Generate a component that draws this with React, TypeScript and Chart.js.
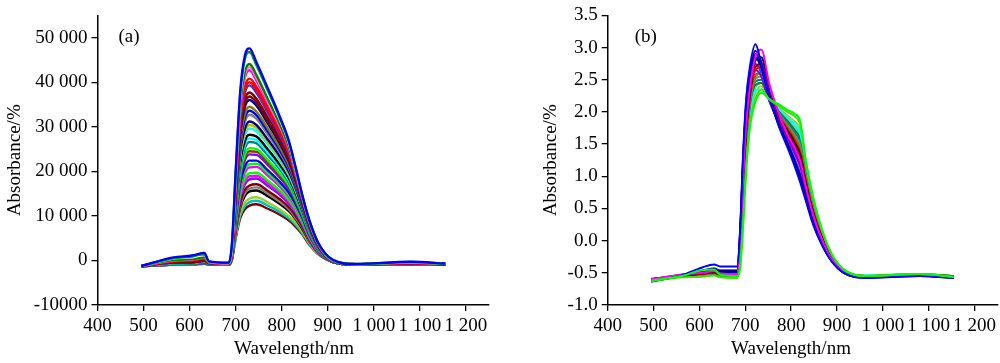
import React, { useEffect, useRef } from "react";
import { Chart, registerables } from "chart.js";

Chart.register(...registerables);

const FONT = '"Liberation Serif", "Times New Roman", serif';

// ---------- axis ticks ----------
const xTickValues = [400, 500, 600, 700, 800, 900, 1000, 1100, 1200];
const xTickLabels = ["400", "500", "600", "700", "800", "900", "1 000", "1 100", "1 200"];

// panel (a) values are stored in thousands
const yTickValuesA = [-10, 0, 10, 20, 30, 40, 50];
const yTickLabelsA = ["-10000", "0", "10 000", "20 000", "30 000", "40 000", "50 000"];
const yTickValuesB = [-1, -0.5, 0, 0.5, 1, 1.5, 2, 2.5, 3, 3.5];
const yTickLabelsB = ["-1.0", "-0.5", "0.0", "0.5", "1.0", "1.5", "2.0", "2.5", "3.0", "3.5"];

// ---------- panel (a): raw spectra (x1000) ----------
const wavelengthsA = [495, 565, 605, 632, 642, 685, 692, 700, 710, 720, 730, 745, 770, 795, 815, 830, 845, 860, 880, 910, 960, 1080, 1155];

const specA01 = [-1.25, 0.7, 1.1, 1.7, -0.2, -0.5, 4.0, 20.0, 38.1, 46.0, 47.6, 44.5, 38.6, 32.5, 27.0, 21.0, 14.5, 9.0, 3.8, 0.2, -0.8, -0.3, -0.7];
const specA01b = [-1.25, 0.5, 0.9, 1.4, -0.25, -0.55, 3.5, 19.6, 37.3, 45.2, 46.8, 43.8, 38.1, 32.1, 26.7, 20.8, 14.4, 8.9, 3.7, 0.15, -0.8, -0.35, -0.7];
const specA02 = [-1.25, 0.4, 0.7, 1.2, -0.3, -0.6, 3.0, 19.2, 36.6, 44.4, 46.0, 43.2, 37.6, 31.8, 26.5, 20.6, 14.3, 8.8, 3.7, 0.1, -0.8, -0.4, -0.7];
const specA03 = [-1.2, 0.1, 0.3, 0.7, -0.4, -0.6, 2.6, 18.5, 34.9, 42.4, 44.1, 41.6, 36.2, 30.8, 25.7, 20.2, 14.1, 8.8, 3.7, 0.0, -0.85, -0.5, -0.75];
const specA03b = [-1.2, 0.05, 0.25, 0.65, -0.4, -0.6, 2.45, 18.1, 34.3, 41.7, 43.4, 41.0, 35.7, 30.4, 25.5, 20.0, 14.0, 8.7, 3.6, 0.0, -0.85, -0.5, -0.75];
const specA04 = [-1.25, 0.0, 0.2, 0.6, -0.4, -0.6, 2.3, 17.8, 33.7, 41.0, 42.7, 40.4, 35.3, 30.1, 25.3, 19.9, 14.0, 8.7, 3.6, 0.0, -0.85, -0.5, -0.75];
const specA05 = [-1.2, -0.2, 0.0, 0.4, -0.5, -0.7, 2.1, 17.0, 32.3, 39.0, 40.8, 39.0, 34.3, 29.4, 24.8, 19.7, 14.1, 8.7, 3.5, 0.0, -0.85, -0.55, -0.75];
const specA05b = [-1.25, -0.15, 0.05, 0.45, -0.45, -0.65, 2.05, 16.7, 31.7, 38.3, 40.0, 38.3, 33.7, 28.8, 24.3, 19.3, 13.8, 8.5, 3.4, -0.05, -0.85, -0.6, -0.8];
const specA06 = [-1.25, -0.1, 0.1, 0.5, -0.4, -0.6, 2.0, 16.4, 31.1, 37.6, 39.3, 37.6, 33.1, 28.3, 23.9, 19.0, 13.6, 8.3, 3.4, -0.05, -0.85, -0.6, -0.8];
const specA07 = [-1.25, -0.3, -0.3, 0.0, -0.5, -0.7, 1.9, 15.7, 29.8, 36.1, 37.7, 36.3, 32.0, 27.5, 23.2, 18.6, 13.3, 8.2, 3.3, -0.1, -0.9, -0.6, -0.8];
const specA07b = [-1.25, -0.35, -0.35, -0.05, -0.55, -0.7, 1.85, 15.3, 29.1, 35.2, 36.8, 35.5, 31.3, 26.9, 22.7, 18.2, 13.1, 8.0, 3.2, -0.1, -0.9, -0.65, -0.8];
const specA08 = [-1.25, -0.4, -0.4, -0.1, -0.6, -0.7, 1.8, 15.0, 28.4, 34.4, 36.0, 34.7, 30.7, 26.4, 22.3, 17.9, 12.9, 7.9, 3.2, -0.1, -0.9, -0.65, -0.8];
const specA09 = [-1.3, -0.4, -0.35, 0.1, -0.55, -0.75, 1.7, 14.3, 27.1, 32.9, 34.5, 33.4, 29.6, 25.5, 21.6, 17.5, 12.6, 7.7, 3.1, -0.15, -0.9, -0.7, -0.8];
const specA09b = [-1.3, -0.45, -0.4, -0.05, -0.6, -0.75, 1.65, 14.0, 26.4, 32.0, 33.6, 32.6, 28.9, 24.9, 21.1, 17.1, 12.4, 7.6, 3.0, -0.15, -0.9, -0.7, -0.85];
const specA10 = [-1.25, -0.5, -0.5, -0.2, -0.6, -0.75, 1.6, 13.6, 25.7, 31.1, 32.7, 31.8, 28.2, 24.4, 20.7, 16.8, 12.2, 7.5, 2.9, -0.15, -0.9, -0.7, -0.85];
const specA11 = [-1.3, -0.5, -0.45, -0.1, -0.6, -0.8, 1.5, 12.9, 24.5, 29.6, 31.2, 30.4, 27.1, 23.5, 20.0, 16.3, 11.8, 7.2, 2.8, -0.2, -0.9, -0.75, -0.85];
const specA11b = [-1.3, -0.55, -0.5, -0.2, -0.6, -0.8, 1.45, 12.6, 23.9, 28.8, 30.4, 29.7, 26.5, 23.0, 19.6, 16.0, 11.6, 7.1, 2.75, -0.2, -0.9, -0.75, -0.85];
const specA12 = [-1.25, -0.6, -0.55, -0.3, -0.65, -0.8, 1.4, 12.3, 23.3, 28.1, 29.6, 29.0, 26.0, 22.5, 19.2, 15.7, 11.5, 7.0, 2.7, -0.2, -0.9, -0.75, -0.85];
const specA13 = [-1.3, -0.6, -0.6, -0.4, -0.7, -0.8, 1.3, 11.7, 22.1, 26.8, 28.2, 27.8, 24.9, 21.6, 18.5, 15.1, 11.1, 6.8, 2.6, -0.2, -0.9, -0.8, -0.85];
const specA13b = [-1.3, -0.65, -0.6, -0.4, -0.7, -0.8, 1.25, 11.3, 21.4, 26.0, 27.4, 27.0, 24.2, 21.1, 18.0, 14.8, 10.9, 6.6, 2.55, -0.2, -0.9, -0.8, -0.85];
const specA14 = [-1.3, -0.7, -0.65, -0.45, -0.7, -0.85, 1.2, 11.0, 20.8, 25.2, 26.6, 26.3, 23.6, 20.6, 17.6, 14.5, 10.7, 6.5, 2.5, -0.25, -0.9, -0.8, -0.85];
const specA15 = [-1.3, -0.7, -0.7, -0.5, -0.75, -0.85, 1.1, 10.4, 19.7, 23.8, 25.2, 25.0, 22.5, 19.6, 16.9, 13.9, 10.3, 6.3, 2.4, -0.25, -0.9, -0.8, -0.85];
const specA15b = [-1.3, -0.7, -0.7, -0.5, -0.75, -0.85, 1.05, 10.1, 19.1, 23.1, 24.5, 24.4, 22.0, 19.2, 16.5, 13.6, 10.1, 6.1, 2.35, -0.25, -0.9, -0.8, -0.9];
const specA16 = [-1.3, -0.75, -0.7, -0.55, -0.75, -0.85, 1.0, 9.8, 18.5, 22.5, 23.8, 23.7, 21.4, 18.7, 16.1, 13.3, 9.9, 6.0, 2.3, -0.25, -0.9, -0.8, -0.9];
const specA17 = [-1.3, -0.8, -0.75, -0.6, -0.8, -0.9, 0.9, 9.2, 17.4, 21.1, 22.4, 22.4, 20.2, 17.7, 15.3, 12.7, 9.5, 5.7, 2.2, -0.3, -0.9, -0.85, -0.9];
const specA17b = [-1.3, -0.8, -0.8, -0.6, -0.8, -0.9, 0.85, 8.9, 16.8, 20.4, 21.6, 21.7, 19.6, 17.2, 14.8, 12.3, 9.2, 5.6, 2.15, -0.3, -0.9, -0.85, -0.9];
const specA18 = [-1.3, -0.8, -0.8, -0.6, -0.8, -0.9, 0.8, 8.6, 16.2, 19.7, 20.9, 21.0, 19.0, 16.7, 14.4, 12.0, 9.0, 5.5, 2.1, -0.3, -0.9, -0.85, -0.9];
const specA19 = [-1.3, -0.85, -0.8, -0.65, -0.8, -0.9, 0.7, 8.1, 15.2, 18.4, 19.6, 19.7, 17.9, 15.8, 13.7, 11.4, 8.5, 5.2, 2.0, -0.3, -0.95, -0.85, -0.9];
const specA19b = [-1.3, -0.85, -0.8, -0.7, -0.85, -0.9, 0.65, 7.8, 14.6, 17.7, 18.9, 19.0, 17.3, 15.3, 13.2, 11.0, 8.3, 5.0, 1.9, -0.3, -0.95, -0.85, -0.9];
const specA20 = [-1.3, -0.85, -0.85, -0.7, -0.85, -0.9, 0.6, 7.5, 14.1, 17.1, 18.2, 18.4, 16.7, 14.8, 12.8, 10.7, 8.1, 4.9, 1.8, -0.3, -0.95, -0.85, -0.9];
const specA21 = [-1.3, -0.9, -0.85, -0.7, -0.85, -0.95, 0.5, 6.9, 13.0, 15.8, 16.8, 17.1, 15.6, 13.8, 12.0, 10.0, 7.6, 4.6, 1.7, -0.3, -0.95, -0.9, -0.9];
const specA21b = [-1.3, -0.9, -0.85, -0.75, -0.85, -0.95, 0.45, 6.6, 12.4, 15.1, 16.1, 16.4, 15.0, 13.2, 11.5, 9.6, 7.3, 4.4, 1.6, -0.3, -0.95, -0.9, -0.9];
const specA22 = [-1.3, -0.9, -0.85, -0.75, -0.85, -0.95, 0.4, 6.4, 11.9, 14.5, 15.5, 15.7, 14.4, 12.7, 11.1, 9.3, 7.0, 4.3, 1.6, -0.3, -0.95, -0.9, -0.9];
const specA23 = [-1.3, -0.9, -0.9, -0.75, -0.9, -0.95, 0.3, 5.7, 10.7, 13.0, 13.9, 14.2, 13.0, 11.5, 10.0, 8.5, 6.4, 3.9, 1.4, -0.35, -0.95, -0.9, -0.95];
const specA23b = [-1.3, -0.9, -0.9, -0.75, -0.9, -0.95, 0.25, 5.3, 10.1, 12.2, 13.1, 13.4, 12.3, 10.9, 9.5, 8.0, 6.1, 3.7, 1.35, -0.3, -0.95, -0.9, -0.95];
const specA24 = [-1.3, -0.9, -0.85, -0.7, -0.85, -0.95, 0.2, 5.0, 9.5, 11.5, 12.3, 12.6, 11.6, 10.3, 9.0, 7.6, 5.8, 3.5, 1.3, -0.3, -0.95, -0.9, -0.9];

const seriesA = [
  specA01, specA01b, specA02, specA03, specA03b, specA04, specA05, specA05b, specA06, specA07, specA07b, specA08,
  specA09, specA09b, specA10, specA11, specA11b, specA12, specA13, specA13b, specA14, specA15, specA15b, specA16,
  specA17, specA17b, specA18, specA19, specA19b, specA20, specA21, specA21b, specA22, specA23, specA23b, specA24,
];
const colorsA = [
  "#0000FF", "#00A000", "#FFFFFF", "#008000", "#FF80C0", "#FF00FF", "#FF0000", "#FF0000", "#3030FF", "#800000", "#800000", "#0000A0",
  "#808000", "#0000FF", "#808080", "#000080", "#C0C000", "#00FFFF", "#000000", "#00FFFF", "#008080", "#00FF00", "#804000", "#8000FF",
  "#0000FF", "#00FF00", "#FF00FF", "#00FF00", "#FF00FF", "#8000FF", "#800000", "#808080", "#000000", "#9ACD32", "#00C0C0", "#800000",
];

// ---------- panel (b): pretreated spectra ----------
const wavelengthsB = [495, 560, 605, 632, 645, 682, 689, 695, 702, 710, 722, 735, 752, 772, 792, 808, 820, 832, 848, 866, 888, 915, 960, 1080, 1155];

const specB01 = [-0.64, -0.54, -0.42, -0.37, -0.40, -0.40, 0.2, 1.3, 2.2, 2.7, 3.05, 2.75, 2.25, 1.8, 1.45, 1.15, 0.9, 0.62, 0.25, -0.05, -0.32, -0.5, -0.58, -0.55, -0.58];
const specB02 = [-0.62, -0.55, -0.47, -0.44, -0.47, -0.47, 0.14, 1.19, 2.09, 2.6, 2.95, 2.71, 2.25, 1.83, 1.51, 1.23, 1.0, 0.68, 0.29, -0.03, -0.31, -0.5, -0.57, -0.55, -0.57];
const specB03 = [-0.63, -0.55, -0.48, -0.46, -0.48, -0.49, 0.17, 1.25, 2.15, 2.62, 2.85, 2.68, 2.25, 1.82, 1.48, 1.19, 0.95, 0.65, 0.27, -0.04, -0.31, -0.5, -0.57, -0.54, -0.57];
const specB04 = [-0.6, -0.53, -0.5, -0.47, -0.51, -0.52, -0.01, 0.92, 1.82, 2.37, 2.85, 2.97, 2.45, 2.0, 1.65, 1.44, 1.23, 0.84, 0.4, 0.04, -0.28, -0.48, -0.55, -0.53, -0.56];
const specB05 = [-0.6, -0.53, -0.49, -0.46, -0.5, -0.51, 0.02, 0.97, 1.87, 2.42, 2.9, 2.78, 2.3, 1.9, 1.62, 1.4, 1.19, 0.81, 0.38, 0.03, -0.28, -0.49, -0.56, -0.53, -0.56];
const specB06 = [-0.61, -0.55, -0.52, -0.5, -0.53, -0.54, -0.04, 0.86, 1.76, 2.32, 2.7, 2.75, 2.32, 1.93, 1.68, 1.48, 1.28, 0.87, 0.42, 0.05, -0.27, -0.48, -0.55, -0.54, -0.56];
const specB07 = [-0.6, -0.55, -0.51, -0.49, -0.52, -0.53, -0.07, 0.81, 1.71, 2.27, 2.8, 2.85, 2.35, 1.94, 1.71, 1.52, 1.33, 0.9, 0.44, 0.06, -0.27, -0.48, -0.55, -0.53, -0.55];
const specB08 = [-0.6, -0.54, -0.51, -0.48, -0.52, -0.53, -0.1, 0.75, 1.65, 2.22, 2.65, 2.7, 2.3, 1.96, 1.74, 1.56, 1.37, 0.94, 0.46, 0.08, -0.26, -0.47, -0.55, -0.53, -0.56];
const specB09 = [-0.62, -0.55, -0.5, -0.47, -0.5, -0.51, 0.05, 1.02, 1.92, 2.46, 2.65, 2.55, 2.18, 1.88, 1.59, 1.35, 1.14, 0.78, 0.36, 0.01, -0.29, -0.49, -0.56, -0.54, -0.57];
const specB10 = [-0.6, -0.55, -0.52, -0.5, -0.53, -0.55, -0.13, 0.7, 1.6, 2.18, 2.55, 2.6, 2.3, 1.98, 1.77, 1.6, 1.42, 0.97, 0.49, 0.09, -0.25, -0.47, -0.55, -0.52, -0.55];
const specB11 = [-0.59, -0.55, -0.53, -0.51, -0.54, -0.55, -0.16, 0.64, 1.54, 2.13, 2.51, 2.55, 2.28, 1.99, 1.8, 1.64, 1.47, 1.0, 0.51, 0.1, -0.25, -0.47, -0.55, -0.53, -0.55];
const specB12 = [-0.6, -0.56, -0.53, -0.51, -0.54, -0.56, -0.19, 0.59, 1.49, 2.08, 2.47, 2.5, 2.22, 2.01, 1.83, 1.68, 1.52, 1.03, 0.53, 0.11, -0.24, -0.47, -0.55, -0.53, -0.56];
const specB13 = [-0.6, -0.56, -0.52, -0.49, -0.53, -0.55, -0.28, 0.42, 1.32, 1.94, 2.33, 2.35, 2.2, 2.06, 1.91, 1.81, 1.66, 1.12, 0.59, 0.15, -0.22, -0.46, -0.54, -0.52, -0.55];
const specB14 = [-0.61, -0.56, -0.54, -0.52, -0.55, -0.56, -0.22, 0.53, 1.43, 2.04, 2.42, 2.45, 2.22, 2.02, 1.86, 1.72, 1.57, 1.06, 0.55, 0.13, -0.24, -0.47, -0.55, -0.53, -0.56];
const specB15 = [-0.63, -0.55, -0.47, -0.43, -0.46, -0.46, 0.11, 1.14, 2.04, 2.56, 2.75, 2.6, 2.18, 1.85, 1.54, 1.27, 1.04, 0.71, 0.31, -0.01, -0.3, -0.49, -0.57, -0.55, -0.58];
const specB16 = [-0.6, -0.54, -0.5, -0.48, -0.51, -0.52, -0.04, 0.86, 1.76, 2.3, 2.58, 2.6, 2.28, 1.95, 1.7, 1.5, 1.3, 0.88, 0.43, 0.05, -0.27, -0.48, -0.55, -0.53, -0.56];
const specB17 = [-0.61, -0.56, -0.55, -0.53, -0.56, -0.57, -0.31, 0.37, 1.27, 1.89, 2.29, 2.4, 2.21, 2.07, 1.94, 1.85, 1.71, 1.16, 0.62, 0.16, -0.22, -0.46, -0.54, -0.52, -0.55];
const specB18 = [-0.62, -0.55, -0.46, -0.45, -0.53, -0.55, -0.4, 0.2, 1.1, 1.75, 2.15, 2.3, 2.2, 2.12, 2.03, 1.97, 1.85, 1.25, 0.68, 0.2, -0.2, -0.45, -0.55, -0.52, -0.56];
const specB19 = [-0.63, -0.57, -0.56, -0.54, -0.57, -0.58, -0.37, 0.26, 1.16, 1.8, 2.2, 2.35, 2.2, 2.1, 2.0, 1.93, 1.8, 1.22, 0.66, 0.19, -0.21, -0.45, -0.55, -0.52, -0.56];
const specB20 = [-0.61, -0.56, -0.53, -0.51, -0.55, -0.56, -0.25, 0.48, 1.38, 1.99, 2.38, 2.45, 2.21, 2.04, 1.89, 1.77, 1.61, 1.09, 0.57, 0.14, -0.23, -0.46, -0.55, -0.53, -0.56];

const seriesB = [specB18, specB19, specB01, specB04, specB02, specB03, specB05, specB06, specB07, specB08,
  specB09, specB10, specB11, specB12, specB13, specB14, specB15, specB16, specB17, specB20];
const colorsB = ["#00FF00", "#40E000", "#0000FF", "#FF00FF", "#000080", "#0000A0", "#800080", "#800000", "#000000", "#FF0000",
  "#8000FF", "#808000", "#808080", "#008080", "#00FFFF", "#008000", "#2040FF", "#FF0080", "#9ACD32", "#40E0D0"];

// ---------- helpers ----------
type PanelCfg = {
  label: string;
  labelDx: number;
  xTitleCenter: number;
  wavelengths: number[];
  series: number[][];
  colors: string[];
  lineWidth: number;
  yMin: number;
  yMax: number;
  yTickValues: number[];
  yTickLabels: string[];
  padLeft: number;
  padRight: number;
  yWidth: number;
};

function textPlugin(cfg: PanelCfg) {
  return {
    id: "panelText",
    afterDraw(chart: any) {
      const { ctx, chartArea } = chart;
      ctx.save();
      ctx.font = `19px ${FONT}`;
      ctx.fillStyle = "#000";
      ctx.textBaseline = "middle";
      ctx.textAlign = "left";
      ctx.fillText(cfg.label, chartArea.left + cfg.labelDx, 37);
      ctx.textAlign = "center";
      ctx.fillText("Wavelength/nm", cfg.xTitleCenter, 349);
      ctx.restore();
    },
  };
}

function buildChart(canvas: HTMLCanvasElement, cfg: PanelCfg) {
  const datasets = cfg.series.map((s, k) => ({
    data: cfg.wavelengths.map((w, i) => ({ x: w, y: s[i] })),
    borderColor: cfg.colors[k],
    borderWidth: cfg.lineWidth,
    pointRadius: 0,
    fill: false,
    cubicInterpolationMode: "monotone" as const,
  }));
  const tickFont = { family: FONT, size: 19 };
  return new Chart(canvas, {
    type: "line",
    data: { datasets },
    plugins: [textPlugin(cfg)],
    options: {
      responsive: false,
      animation: false,
      events: [],
      layout: { padding: { left: cfg.padLeft, right: cfg.padRight, top: 14, bottom: 0 } },
      plugins: { legend: { display: false }, tooltip: { enabled: false } },
      scales: {
        x: {
          type: "linear",
          min: 400,
          max: 1250,
          afterBuildTicks: (s: any) => {
            s.ticks = xTickValues.map((v) => ({ value: v }));
          },
          afterFit: (s: any) => {
            s.height = 58;
          },
          ticks: {
            autoSkip: false,
            maxRotation: 0,
            minRotation: 0,
            padding: 4,
            color: "#000",
            font: tickFont,
            callback: (_v: any, i: number) => xTickLabels[i],
          },
          grid: { display: true, drawOnChartArea: false, drawTicks: true, tickLength: 6, color: "#000", lineWidth: 1.3 },
          border: { display: true, color: "#000", width: 1.5 },
          title: { display: false },
        },
        y: {
          type: "linear",
          min: cfg.yMin,
          max: cfg.yMax,
          afterBuildTicks: (s: any) => {
            s.ticks = cfg.yTickValues.map((v) => ({ value: v }));
          },
          afterFit: (s: any) => {
            s.width = cfg.yWidth;
          },
          ticks: {
            autoSkip: false,
            padding: 4,
            color: "#000",
            font: tickFont,
            callback: (_v: any, i: number) => cfg.yTickLabels[i],
          },
          grid: { display: true, drawOnChartArea: false, drawTicks: true, tickLength: 6, color: "#000", lineWidth: 1.3 },
          border: { display: true, color: "#000", width: 1.5 },
          title: { display: true, text: "Absorbance/%", color: "#000", font: tickFont, padding: { top: 4, bottom: 0 } },
        },
      },
    } as any,
  });
}

export default function App() {
  const refA = useRef<HTMLCanvasElement | null>(null);
  const refB = useRef<HTMLCanvasElement | null>(null);

  useEffect(() => {
    const charts: Chart[] = [];
    if (refA.current) {
      charts.push(
        buildChart(refA.current, {
          label: "(a)",
          labelDx: 21,
          xTitleCenter: 294,
          wavelengths: wavelengthsA,
          series: seriesA,
          colors: colorsA,
          lineWidth: 2.4,
          yMin: -10,
          yMax: 55,
          yTickValues: yTickValuesA,
          yTickLabels: yTickLabelsA,
          padLeft: 0,
          padRight: 11,
          yWidth: 97.5,
        })
      );
    }
    if (refB.current) {
      charts.push(
        buildChart(refB.current, {
          label: "(b)",
          labelDx: 27,
          xTitleCenter: 291,
          wavelengths: wavelengthsB,
          series: seriesB,
          colors: colorsB,
          lineWidth: 2,
          yMin: -1,
          yMax: 3.5,
          yTickValues: yTickValuesB,
          yTickLabels: yTickLabelsB,
          padLeft: 36,
          padRight: 1,
          yWidth: 71.7,
        })
      );
    }
    return () => charts.forEach((c) => c.destroy());
  }, []);

  return (
    <div style={{ position: "fixed", left: 0, top: 0, width: 1000, height: 363, background: "#fff", display: "flex" }}>
      <div style={{ width: 500, height: 363 }}>
        <canvas ref={refA} width={500} height={363} />
      </div>
      <div style={{ width: 500, height: 363 }}>
        <canvas ref={refB} width={500} height={363} />
      </div>
    </div>
  );
}
